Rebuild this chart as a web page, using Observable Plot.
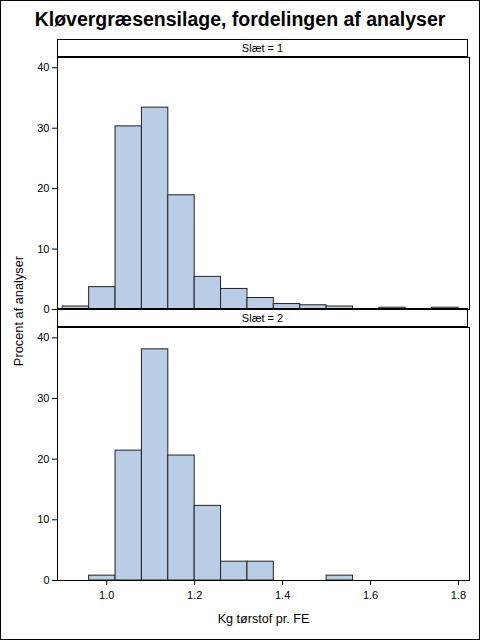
<!DOCTYPE html>
<html>
<head>
<meta charset="utf-8">
<script src="https://cdn.jsdelivr.net/npm/d3@7"></script>
<script src="https://cdn.jsdelivr.net/npm/@observablehq/plot@0.6"></script>
<style>
  html, body { margin: 0; padding: 0; background: #fff; }
  #wrap { position: relative; width: 480px; height: 640px; overflow: hidden; font-family: "Liberation Sans", Arial, sans-serif; background: #fff; }
  #border { position: absolute; left: 0; top: 0; width: 478px; height: 638px; border: 1px solid #000; pointer-events: none; }
  #title { position: absolute; left: 0; top: 8px; width: 480px; text-align: center; font-weight: bold; font-size: 19.5px; color: #000; }
  .hdr { position: absolute; left: 57px; width: 411px; box-sizing: border-box; border: 1px solid #000; text-align: center; font-size: 11px; color: #000; background: #fff; }
  #h1 { top: 39px; height: 19px; border-bottom: 2px solid #000; line-height: 16px; }
  #h2 { top: 308px; height: 20px; border-top: 2px solid #000; border-bottom: 2px solid #000; line-height: 16px; }
  #ylab { position: absolute; left: 18px; top: 311px; transform: translate(-50%, -50%) rotate(-90deg); font-size: 12.8px; white-space: nowrap; color: #000; }
  #p1, #p2 { position: absolute; left: 0; }
  #p1 { top: 55px; }
  #p2 { top: 325px; }
  #p2 svg g[aria-label="x-axis label"] text { font-size: 12.6px; }
</style>
</head>
<body>
<div id="wrap">
  <div id="title">Kløvergræsensilage, fordelingen af analyser</div>
  <div id="p1"></div>
  <div id="p2"></div>
  <div class="hdr" id="h1">Slæt = 1</div>
  <div class="hdr" id="h2">Slæt = 2</div>
  <div id="ylab">Procent af analyser</div>
  <div id="border"></div>
</div>
<script>
// Bin edges (Kg tørstof pr. FE)
const binEdges = [0.90, 0.96, 1.02, 1.08, 1.14, 1.20, 1.26, 1.32, 1.38, 1.44, 1.50, 1.56, 1.62, 1.68, 1.74, 1.80];
// Percent of analyses per bin
const slaet1 = [0.5, 3.7, 30.3, 33.4, 18.9, 5.4, 3.4, 1.9, 0.9, 0.7, 0.5, 0, 0.3, 0, 0.3];
const slaet2 = [0, 0.8, 21.4, 38.1, 20.6, 12.3, 3.1, 3.1, 0, 0, 0.8, 0, 0, 0, 0];
const xTicks = [1.0, 1.2, 1.4, 1.6, 1.8];
const yTicks = [0, 10, 20, 30, 40];

const xDomain = [0.888, 1.825];
const yDomain = [0, 41.7];
const fillColor = "#B9CDE5";
const font = "Liberation Sans, Arial, sans-serif";

function rows(vals) {
  return vals.map((v, i) => ({x1: binEdges[i], x2: binEdges[i + 1], y: v}));
}

function panel(vals, withX) {
  const marks = [
    Plot.rectY(rows(vals), {x1: "x1", x2: "x2", y1: 0, y2: "y", fill: fillColor, stroke: "#222", strokeWidth: 1, inset: 0}),
    Plot.frame({stroke: "#000", strokeWidth: 1}),
    Plot.axisY({ticks: yTicks, tickSize: 5, tickPadding: 3, label: null, tickFormat: d3.format("d"), fontSize: 11})
  ];
  if (withX) {
    marks.push(Plot.axisX({ticks: xTicks, tickSize: 5, tickPadding: 6, tickFormat: d3.format(".1f"), fontSize: 11, label: null}));
    marks.push(Plot.axisX({ariaLabel: "x-axis label", ticks: [], tickSize: 0, label: "Kg tørstof pr. FE", labelAnchor: "center", labelArrow: "none", labelOffset: 42, fontSize: 12.6}));
  } else {
    marks.push(Plot.axisX({ticks: [], label: null}));
  }
  return Plot.plot({
    width: 480,
    height: withX ? 315 : 256,
    marginLeft: 57,
    marginRight: 11,
    marginTop: 2,
    marginBottom: withX ? 60 : 2,
    style: {fontFamily: font, fontSize: "11px", color: "#000", background: "transparent", overflow: "visible"},
    x: {domain: xDomain},
    y: {domain: yDomain},
    marks
  });
}

document.getElementById("p1").appendChild(panel(slaet1, false));
document.getElementById("p2").appendChild(panel(slaet2, true));
</script>
</body>
</html>
